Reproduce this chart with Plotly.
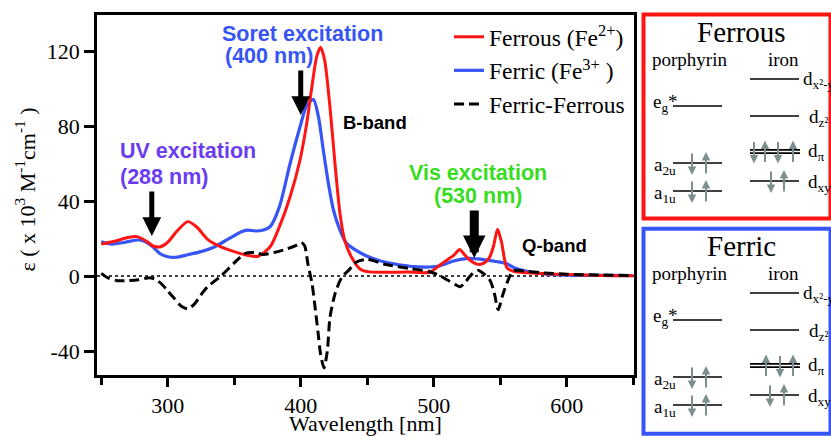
import plotly.graph_objects as go

# ---------------- data ----------------
wl_ferrous = [250, 260, 270, 277, 284, 289, 294, 300, 307, 315, 322, 330, 340, 350, 360, 368,
              377, 384, 392, 399.5, 404.5, 408, 412, 415, 418, 422, 426, 429.5, 433, 438, 445,
              452, 465, 480, 497, 505, 510, 515, 519.5, 523, 528, 533.5, 538, 542, 545, 548,
              551, 555, 560, 570, 585, 600, 625, 650]
eps_ferrous = [17, 18.5, 20.5, 21, 18.5, 16, 15.5, 18, 24, 29, 26, 19.5, 15.5, 13, 11, 10.5,
               15.6, 26.3, 42.3, 62, 81.4, 99, 117, 122, 115, 90, 58, 33.4, 19.2, 10.3, 3.5,
               2.2, 2, 2.1, 2, 6, 8.5, 11, 14.2, 11.5, 8, 6.2, 7, 10, 16, 25,
               18, 4.5, 2.5, 1.8, 1.2, 0.8, 0.3, 0.2]

wl_ferric = [250, 258, 268, 278, 284, 289, 294, 300, 306, 315, 325, 335, 345, 355, 360, 366,
             372, 377, 384, 392, 399.5, 404.5, 409.5, 413.3, 417, 420.8, 424.6, 429.5, 434.5,
             442, 450, 460, 470, 482, 497, 505, 515, 527, 540, 548, 555, 560, 570, 585, 600,
             625, 650]
eps_ferric = [18.3, 17, 18, 19.2, 18, 15.5, 12, 10.3, 10, 11.3, 13, 15.5, 19.5, 23.5, 24.5, 24,
              24.5, 26.3, 37, 60, 79.6, 91, 94.2, 85, 67, 49.4, 35.2, 24.5, 17.4,
              13.5, 10.5, 8, 6.5, 5.2, 4.8, 5.5, 8, 9.4, 8.5, 7.6, 6.5, 4.6, 2.5, 1, 0.5,
              0.3, 0.2]

wl_diff = [250, 255, 262, 270, 278, 285, 290, 295, 300, 305, 310, 315, 320, 325, 330, 340, 350,
           358, 365, 372, 380, 390, 397, 400.5, 403, 405.5, 408.5, 411, 413, 415, 417.5, 420,
           422, 426, 431, 436, 442, 450, 465, 482, 497, 505, 510, 516, 520, 524, 528, 533.5,
           538, 542.5, 545.5, 548.5, 551.5, 555, 560, 570, 580, 600, 625, 650]
eps_diff = [1.4, -1, -2.5, -2.5, -2, -1, -1.5, -4, -8, -12, -16, -17.5, -15, -10, -5.7, 0, 7,
            12, 12.5, 11.5, 12.5, 14.5, 16.5, 17.8, 16, 6, -4, -18, -30, -42, -49, -40,
            -22, -9, -0.5, 3, 7.5, 8.8, 6, 4, 2.3, 0, -2, -4.5, -5.7, -3, 0.5, 3,
            1, -2.5, -9, -18, -11, -3.8, 2.8, 2.5, 1.8, 1, 0.5, 0.3]

y_tickvals = [-40, 0, 40, 80, 120]
y_ticktext = ["-40", "0", "40", "80", "120"]

x_range = [246.8, 650.6]
y_range = [-52.8, 139.2]

# ---------------- geometry helpers (pixel -> paper) ----------------
L, R, T, B = 97, 634, 15, 375
W, H = 831, 436


def PX(px):
    return (px - L) / (R - L)


def PY(py):
    return (B - py) / (B - T)


SERIF = "Liberation Serif"
SANS = "Liberation Sans"
RED = "rgb(255,20,20)"
BLUE = "rgb(55,85,245)"
GREY = "rgb(125,142,142)"

fig = go.Figure()
fig.add_trace(go.Scatter(x=wl_ferric, y=eps_ferric, mode="lines",
                         name="Ferric (Fe<sup>3+</sup> )", legendrank=2,
                         line=dict(color=BLUE, width=3.2, shape="spline", smoothing=0.7)))
fig.add_trace(go.Scatter(x=wl_ferrous, y=eps_ferrous, mode="lines",
                         name="Ferrous (Fe<sup>2+</sup>)", legendrank=1,
                         line=dict(color=RED, width=3, shape="spline", smoothing=0.7)))
fig.add_trace(go.Scatter(x=wl_diff, y=eps_diff, mode="lines",
                         name="Ferric-Ferrous", legendrank=3,
                         line=dict(color="black", width=3, dash="10px,5px",
                                   shape="spline", smoothing=0.7)))

shapes = []
annotations = []

# zero dotted line
shapes.append(dict(type="line", xref="paper", yref="y", x0=0, x1=1, y0=0, y1=0,
                   line=dict(color="black", width=1.5, dash="dot"), layer="below"))


def label(text, x, y, color, size, xanchor="center", family=SANS, bold=True):
    annotations.append(dict(text=("<b>%s</b>" % text) if bold else text,
                            x=PX(x), y=PY(y), xref="paper", yref="paper",
                            xanchor=xanchor, yanchor="middle", showarrow=False,
                            font=dict(family=family, size=size, color=color)))


# chart annotations
UVC = "rgb(105,60,240)"
VISC = "rgb(55,220,30)"
label("Soret excitation", 302, 34, BLUE, 21.5)
label("(400 nm)", 269, 56, BLUE, 21.5)
label("UV excitation", 118, 151, UVC, 21.5, "left")
label("(288 nm)", 118, 177, UVC, 21.5, "left")
label("Vis excitation", 478, 173, VISC, 21.5)
label("(530 nm)", 478, 196, VISC, 21.5)
label("B-band", 341, 122, "black", 18.5, "left")
label("Q-band", 520, 246, "black", 18.5, "left")

# excitation arrows (data coords)
for xw, ytip, ay, aw, asz in [(288, 21.3, -46, 5, 0.75), (400, 85.9, -46, 5, 0.75),
                              (530.5, 9.6, -49, 9, 0.5)]:
    annotations.append(dict(x=xw, y=ytip, xref="x", yref="y", ax=0, ay=ay, text="",
                            showarrow=True, arrowhead=2, arrowwidth=aw, arrowsize=asz,
                            arrowcolor="black"))

# ---------------- energy-level panels ----------------
panels = [("Ferrous", RED, 0, (14.5, 218.5)), ("Ferric", BLUE, 214, (228.7, 433.7))]
por_levels = {"eg": 106, "a2u": 163, "a1u": 191}
fe_levels = {"dx2y2": 79, "dz2": 116, "dpi": 151.5, "dxy": 181}

for name, col, off, (ry0, ry1) in panels:
    shapes.append(dict(type="rect", xref="paper", yref="paper",
                       x0=PX(643.5), x1=PX(830.5), y0=PY(ry0), y1=PY(ry1),
                       line=dict(color=col, width=4)))
    label(name, 741, 32 + off, "black", 29, family=SERIF, bold=False)
    label("porphyrin", 690, 59 + off, "black", 19, family=SERIF, bold=False)
    label("iron", 783, 59 + off, "black", 19, family=SERIF, bold=False)

    def hline(x0, x1, y):
        shapes.append(dict(type="line", xref="paper", yref="paper",
                           x0=PX(x0), x1=PX(x1), y0=PY(y), y1=PY(y),
                           line=dict(color="black", width=1.6)))

    for k, y in por_levels.items():
        hline(673, 722, y + off)
    hline(750, 799, fe_levels["dx2y2"] + off)
    hline(750, 799, fe_levels["dz2"] + off)
    hline(750, 800, fe_levels["dpi"] - 1.6 + off)
    hline(750, 800, fe_levels["dpi"] + 1.6 + off)
    hline(750, 799, fe_levels["dxy"] + off)

    label("e<sub>g</sub>*", 651, 103 + off, "black", 19, "left", SERIF, False)
    label("a<sub>2u</sub>", 652, 166 + off, "black", 19, "left", SERIF, False)
    label("a<sub>1u</sub>", 652, 194 + off, "black", 19, "left", SERIF, False)
    label("d<sub>x²-y²</sub>", 801, 80 + off, "black", 19, "left", SERIF, False)
    label("d<sub>z²</sub>", 807, 118 + off, "black", 19, "left", SERIF, False)
    label("d<sub>π</sub>", 806, 152 + off, "black", 19, "left", SERIF, False)
    label("d<sub>xy</sub>", 806, 183 + off, "black", 19, "left", SERIF, False)

    arrows = [(692, "a2u", "d"), (706, "a2u", "u"), (692, "a1u", "d"), (706, "a1u", "u")]
    if name == "Ferrous":
        arrows += [(754, "dpi", "d"), (765, "dpi", "u"), (778, "dpi", "d"), (793, "dpi", "u"),
                   (771, "dxy", "d"), (784, "dxy", "u")]
    else:
        arrows += [(766, "dpi", "u"), (780, "dpi", "d"), (793, "dpi", "u"),
                   (770, "dxy", "d"), (784, "dxy", "u")]
    for xp, lev, d in arrows:
        ly = (por_levels.get(lev) or fe_levels.get(lev)) + off
        top, bot = ly - 11, ly + 12
        if d == "d":
            tip, ay = bot, -(bot - top)
        else:
            tip, ay = top, (bot - top)
        annotations.append(dict(x=PX(xp), y=PY(tip), xref="paper", yref="paper",
                                ax=0, ay=ay, text="", showarrow=True, arrowhead=2,
                                arrowwidth=2, arrowsize=0.85, arrowcolor=GREY))

ytitle = "&nbsp;&nbsp;ε ( x 10<sup>3</sup> M<sup>-1</sup>cm<sup>-1</sup> )"

fig.update_layout(
    template="none",
    width=W, height=H,
    margin=dict(l=L, r=W - R, t=T, b=H - B, autoexpand=False),
    paper_bgcolor="white", plot_bgcolor="white",
    font=dict(family=SERIF, color="black"),
    showlegend=True,
    legend=dict(x=PX(449), y=PY(15), xanchor="left", yanchor="top",
                bgcolor="rgba(0,0,0,0)", font=dict(family=SERIF, size=23.5),
                traceorder="normal", borderwidth=0),
    shapes=shapes,
    annotations=annotations,
    xaxis=dict(range=x_range, dtick=100, tick0=0, showgrid=False, zeroline=False,
               automargin=False,
               showline=True, linecolor="black", linewidth=2.5, mirror=True,
               ticks="outside", ticklen=9, tickwidth=3, tickcolor="black",
               tickfont=dict(family=SERIF, size=22),
               minor=dict(dtick=50, tick0=0, ticks="outside", ticklen=7, tickwidth=3,
                          tickcolor="black", showgrid=False),
               title=dict(text="Wavelength [nm]", font=dict(family=SERIF, size=22),
                          standoff=3)),
    yaxis=dict(range=y_range, tickmode="array", tickvals=y_tickvals, ticktext=y_ticktext,
               ticksuffix="\u00a0",
               showgrid=False, zeroline=False, automargin=False,
               showline=True, linecolor="black", linewidth=2.5, mirror=True,
               ticks="outside", ticklen=10, tickwidth=3, tickcolor="black",
               tickfont=dict(family=SERIF, size=22),
               title=dict(text=ytitle, font=dict(family=SERIF, size=22), standoff=6)),
)

fig.write_html("out.html")
